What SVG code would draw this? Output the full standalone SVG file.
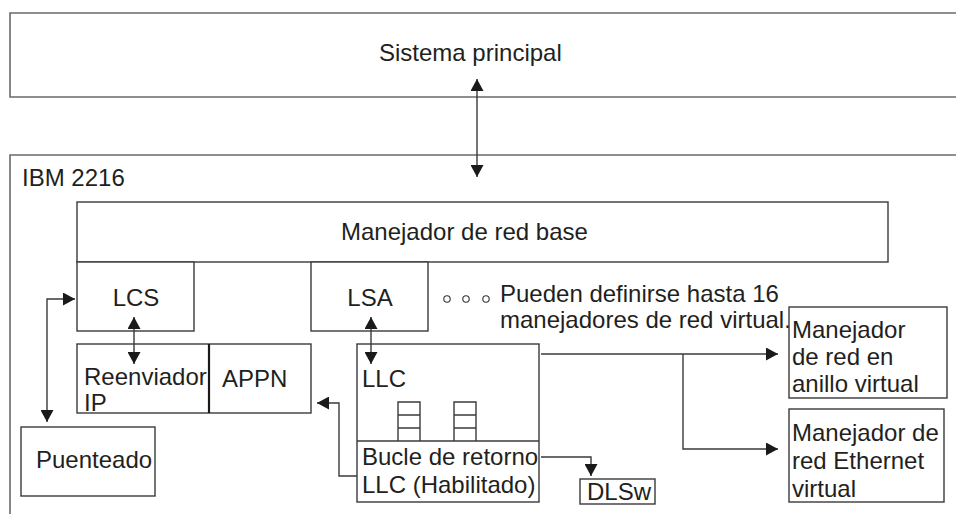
<svg xmlns="http://www.w3.org/2000/svg" width="956" height="514" viewBox="0 0 956 514">
<style>
text{font-family:"Liberation Sans",Arial,sans-serif;font-size:24px;fill:#231f20}
.box{fill:#fff;stroke:#3a3a3a;stroke-width:1.4}
.frame{fill:none;stroke:#6a6a6a;stroke-width:1.6}
.ln{fill:none;stroke:#3a3a3a;stroke-width:1.4}
.c{text-anchor:middle}
</style>
<defs>
<marker id="ah" viewBox="0 0 12 13" refX="12" refY="6.5" markerWidth="12" markerHeight="13" markerUnits="userSpaceOnUse" orient="auto-start-reverse">
<path d="M0,0 L12,6.5 L0,13 z" fill="#1a1a1a"/>
</marker>
</defs>
<rect width="956" height="514" fill="#fff"/>
<g id="sistema">
<path class="frame" d="M970,13 H10 V97 H970"/>
<text x="379" y="61">Sistema principal</text>
</g>
<g id="ibm2216">
<path class="frame" d="M970,155 H10 V520"/>
<text x="22" y="186">IBM 2216</text>
</g>
<g id="base">
<rect class="box" x="77" y="202" width="811" height="60"/>
<text x="341" y="240">Manejador de red base</text>
</g>
<g id="lcs">
<rect class="box" x="77" y="262" width="117" height="69"/>
<text class="c" x="136" y="306">LCS</text>
</g>
<g id="lsa">
<rect class="box" x="311" y="262" width="117" height="69"/>
<text class="c" x="370" y="306">LSA</text>
</g>
<g id="nota">
<circle cx="447" cy="299" r="3.2" fill="none" stroke="#333" stroke-width="1.1"/>
<circle cx="466" cy="299" r="3.2" fill="none" stroke="#333" stroke-width="1.1"/>
<circle cx="486" cy="299" r="3.2" fill="none" stroke="#333" stroke-width="1.1"/>
<text x="500" y="302">Pueden definirse hasta 16</text>
<text x="500" y="328">manejadores de red virtual.</text>
</g>
<g id="reenviador-appn">
<rect class="box" x="77" y="344" width="234" height="69"/>
<line x1="209" y1="344" x2="209" y2="413" stroke="#1a1a1a" stroke-width="2.2"/>
<text x="84" y="385">Reenviador</text>
<text x="84" y="411">IP</text>
<text x="222" y="387">APPN</text>
</g>
<g id="puenteado">
<rect class="box" x="21" y="427" width="134" height="69"/>
<text x="36" y="468">Puenteado</text>
</g>
<g id="llc">
<rect class="box" x="357" y="344" width="182" height="158"/>
<line class="ln" x1="357" y1="441" x2="539" y2="441"/>
<text x="362" y="387">LLC</text>
<path class="ln" d="M398,441 V402 H420 V441 M398,415 H420 M398,428 H420"/>
<path class="ln" d="M454,441 V402 H476 V441 M454,415 H476 M454,428 H476"/>
<text x="362" y="465">Bucle de retorno</text>
<text x="362" y="493">LLC (Habilitado)</text>
</g>
<g id="dlsw">
<rect class="box" x="580" y="479" width="75" height="25"/>
<text class="c" x="619" y="500">DLSw</text>
</g>
<g id="anillo">
<rect class="box" x="789" y="307" width="158" height="91"/>
<text x="792" y="338">Manejador</text>
<text x="792" y="365">de red en</text>
<text x="792" y="392">anillo virtual</text>
</g>
<g id="ethernet">
<rect class="box" x="789" y="409" width="155" height="93"/>
<text x="792" y="441">Manejador de</text>
<text x="792" y="469">red Ethernet</text>
<text x="792" y="497">virtual</text>
</g>
<g id="connectors" class="ln">
<path class="ln" d="M477,79 V177" marker-start="url(#ah)" marker-end="url(#ah)"/>
<path class="ln" d="M134,317 V364" marker-start="url(#ah)" marker-end="url(#ah)"/>
<path class="ln" d="M371,317 V364" marker-start="url(#ah)" marker-end="url(#ah)"/>
<path class="ln" d="M75,299 H47 V422" marker-start="url(#ah)" marker-end="url(#ah)"/>
<path class="ln" d="M357,476 H339 V403 H317" marker-end="url(#ah)"/>
<path class="ln" d="M541,354 H778" marker-end="url(#ah)"/>
<path class="ln" d="M683,354 V449 H778" marker-end="url(#ah)"/>
<path class="ln" d="M541,457 H591 V476" marker-end="url(#ah)"/>
</g>
</svg>
